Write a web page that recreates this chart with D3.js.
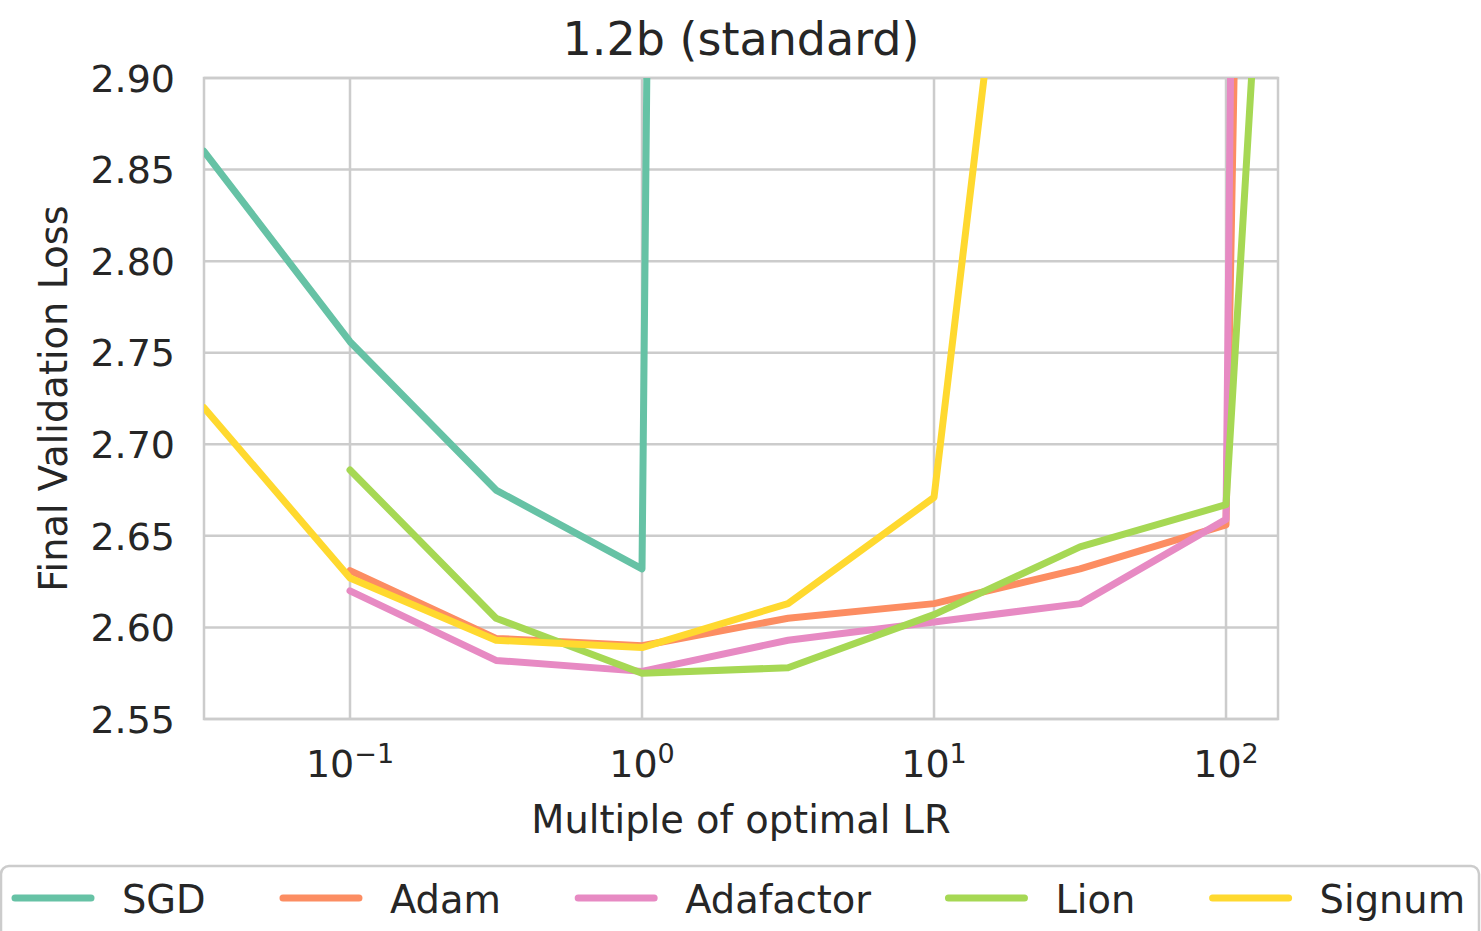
<!DOCTYPE html>
<html>
<head>
<meta charset="utf-8">
<script src="https://cdn.jsdelivr.net/npm/d3@7"></script>
<style>
  html, body { margin: 0; padding: 0; background: #fff; }
  svg { display: block; font-family: "DejaVu Sans", sans-serif; }
</style>
</head>
<body>
<svg id="chart" width="1481" height="931"></svg>
<script>
// Learning-rate multiples swept (half-decade steps)
const lrMultiples = [10 ** -1.5, 10 ** -1, 10 ** -0.5, 1, 10 ** 0.5, 10, 10 ** 1.5, 100, 10 ** 2.5];

// Final validation loss per optimizer; null = run not in the sweep
const sgdLoss       = [2.860, 2.756, 2.675, 2.632, 10.8, null, null, null, null];
const adamLoss      = [null, 2.631, 2.594, 2.590, 2.605, 2.613, 2.632, 2.656, 7.1];
const adafactorLoss = [null, 2.620, 2.582, 2.576, 2.593, 2.603, 2.613, 2.659, 10.5];
const lionLoss      = [null, 2.686, 2.605, 2.575, 2.578, 2.607, 2.644, 2.667, 4.0];
const signumLoss    = [2.720, 2.627, 2.593, 2.589, 2.613, 2.671, 3.34, null, null];

const optimizerNames = ["SGD", "Adam", "Adafactor", "Lion", "Signum"];
const optimizerColors = ["#66c2a5", "#fc8d62", "#e78ac3", "#a6d854", "#ffd92f"];
const seriesValues = [sgdLoss, adamLoss, adafactorLoss, lionLoss, signumLoss];

const yTickValues = [2.55, 2.60, 2.65, 2.70, 2.75, 2.80, 2.85, 2.90];
const xTickValues = [0.1, 1, 10, 100];
const xTickExponents = ["−1", "0", "1", "2"];

const titleText = "1.2b (standard)";
const xLabelText = "Multiple of optimal LR";
const yLabelText = "Final Validation Loss";

const svg = d3.select("#chart");
const textColor = "#262626";
const gridColor = "#cccccc";
const labelSize = 38.4;

const plot = { left: 204, right: 1278, top: 78, bottom: 719 };

const x = d3.scaleLog()
  .domain([10 ** -1.5, 10 ** 2.178])
  .range([plot.left, plot.right]);
const y = d3.scaleLinear()
  .domain([2.55, 2.90])
  .range([plot.bottom, plot.top]);

svg.append("defs").append("clipPath").attr("id", "plot-clip")
  .append("rect")
  .attr("x", plot.left).attr("y", plot.top)
  .attr("width", plot.right - plot.left).attr("height", plot.bottom - plot.top);

// Grid lines
const grid = svg.append("g");
grid.selectAll("line.gy").data(yTickValues).join("line")
  .attr("x1", plot.left).attr("x2", plot.right)
  .attr("y1", d => y(d)).attr("y2", d => y(d))
  .attr("stroke", gridColor).attr("stroke-width", 2.5);
grid.selectAll("line.gx").data(xTickValues).join("line")
  .attr("y1", plot.top).attr("y2", plot.bottom)
  .attr("x1", d => x(d)).attr("x2", d => x(d))
  .attr("stroke", gridColor).attr("stroke-width", 2.5);

// Axes frame
svg.append("rect")
  .attr("x", plot.left).attr("y", plot.top)
  .attr("width", plot.right - plot.left).attr("height", plot.bottom - plot.top)
  .attr("fill", "none").attr("stroke", gridColor).attr("stroke-width", 2.5);

// Series lines
const lineGen = d3.line()
  .defined(d => d.v != null)
  .x(d => x(d.lr))
  .y(d => y(d.v));

const linesG = svg.append("g").attr("clip-path", "url(#plot-clip)");
seriesValues.forEach((vals, i) => {
  const pts = vals.map((v, j) => ({ lr: lrMultiples[j], v }));
  linesG.append("path")
    .attr("d", lineGen(pts))
    .attr("fill", "none")
    .attr("stroke", optimizerColors[i])
    .attr("stroke-width", 7)
    .attr("stroke-linejoin", "round")
    .attr("stroke-linecap", "round");
});

// Y tick labels
svg.append("g").selectAll("text").data(yTickValues).join("text")
  .attr("x", 175).attr("y", d => y(d))
  .attr("dy", "0.36em")
  .attr("text-anchor", "end")
  .attr("font-size", 38).attr("fill", textColor)
  .text(d => d.toFixed(2));

// X tick labels (powers of ten)
const xt = svg.append("g").selectAll("text").data(xTickValues).join("text")
  .attr("x", (d) => x(d)).attr("y", 777)
  .attr("text-anchor", "middle")
  .attr("font-size", 38).attr("fill", textColor);
xt.append("tspan").text("10");
xt.append("tspan").attr("dy", -14).attr("font-size", 27)
  .text((d, i) => xTickExponents[i]);

// Title and axis labels
svg.append("text")
  .attr("x", (plot.left + plot.right) / 2).attr("y", 55)
  .attr("text-anchor", "middle").attr("font-size", 46).attr("fill", textColor)
  .text(titleText);
svg.append("text")
  .attr("x", (plot.left + plot.right) / 2).attr("y", 833)
  .attr("text-anchor", "middle").attr("font-size", labelSize).attr("fill", textColor)
  .text(xLabelText);
svg.append("text")
  .attr("transform", `translate(67, ${(plot.top + plot.bottom) / 2}) rotate(-90)`)
  .attr("text-anchor", "middle").attr("font-size", labelSize).attr("fill", textColor)
  .text(yLabelText);

// Legend
const legend = svg.append("g");
legend.append("rect")
  .attr("x", 1).attr("y", 866).attr("width", 1478).attr("height", 90)
  .attr("rx", 8).attr("ry", 8)
  .attr("fill", "#fff").attr("stroke", gridColor).attr("stroke-width", 2.5);

let cursor = 12;
optimizerNames.forEach((name, i) => {
  legend.append("line")
    .attr("x1", cursor + 3).attr("x2", cursor + 79)
    .attr("y1", 898).attr("y2", 898)
    .attr("stroke", optimizerColors[i]).attr("stroke-width", 7)
    .attr("stroke-linecap", "round");
  const t = legend.append("text")
    .attr("x", cursor + 110).attr("y", 913)
    .attr("font-size", labelSize).attr("fill", textColor)
    .text(name);
  cursor = cursor + 110 + t.node().getComputedTextLength() + 74.3;
});
</script>
</body>
</html>
